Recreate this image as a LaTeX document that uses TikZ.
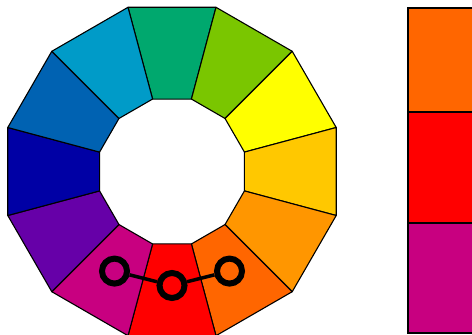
\documentclass[tikz,border=0pt]{standalone}
\usetikzlibrary{calc}
\definecolor{cA}{RGB}{0,168,110}
\definecolor{cB}{RGB}{122,198,0}
\definecolor{cC}{RGB}{255,255,0}
\definecolor{cD}{RGB}{255,200,0}
\definecolor{cE}{RGB}{255,150,0}
\definecolor{cF}{RGB}{255,102,0}
\definecolor{cG}{RGB}{255,0,0}
\definecolor{cH}{RGB}{200,0,128}
\definecolor{cI}{RGB}{102,0,168}
\definecolor{cJ}{RGB}{0,0,165}
\definecolor{cK}{RGB}{0,98,178}
\definecolor{cL}{RGB}{0,155,200}
\tikzset{
  seg/.style={draw=black, line width=1.1pt, line join=round},
  ring/.style={circle, draw=black, line width=6pt, minimum size=25pt, inner sep=0pt},
  link/.style={draw=black, line width=3.5pt},
  swatch/.style={draw=black, line width=1.1pt}
}
\begin{document}
\begin{tikzpicture}[x=1pt,y=-1pt]
\useasboundingbox (0,0) rectangle (472,335);
\coordinate (O) at (172,171.5);
\def\Ro{170}
\def\Ri{75}
\foreach \k/\c in {0/cA,1/cB,2/cC,3/cD,4/cE,5/cF,6/cG,7/cH,8/cI,9/cJ,10/cK,11/cL}{
  \pgfmathsetmacro{\aa}{-90+30*\k-15}
  \pgfmathsetmacro{\ab}{-90+30*\k+15}
  \path[seg, fill=\c] ($(O)+(\aa:\Ro)$) -- ($(O)+(\ab:\Ro)$) -- ($(O)+(\ab:\Ri)$) -- ($(O)+(\aa:\Ri)$) -- cycle;
}
% rings
\node[ring] (r1) at ($(O)+(120:115)$) {};
\node[ring] (r2) at ($(O)+(90:114)$) {};
\node[ring] (r3) at ($(O)+(60:115)$) {};
\draw[link] (r1) -- (r2);
\draw[link] (r2) -- (r3);
% swatches
\path[swatch, fill=cF] (408,8) rectangle (480,112);
\path[swatch, fill=cG] (408,112) rectangle (480,223);
\path[swatch, fill=cH] (408,223) rectangle (480,333);
\end{tikzpicture}
\end{document}
